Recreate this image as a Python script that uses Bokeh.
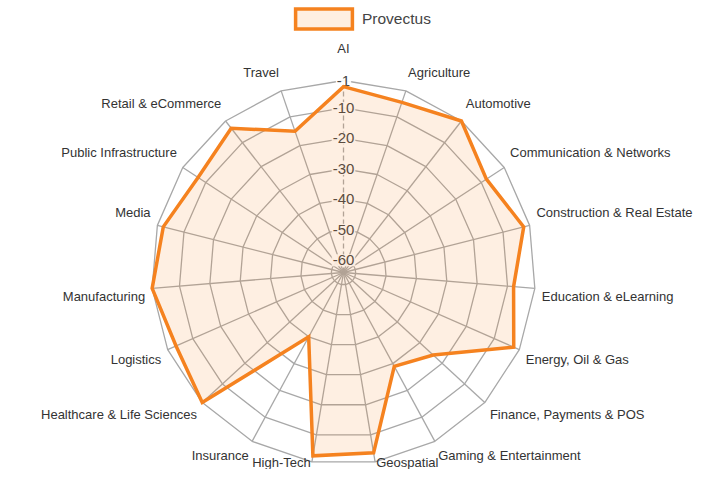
import numpy as np
from bokeh.plotting import figure
from bokeh.models import Range1d, ColumnDataSource, Legend, LegendItem
from bokeh.core.properties import value
from bokeh.embed import file_html
from bokeh.resources import INLINE

# ---- data ----
categories = ["AI", "Agriculture", "Automotive", "Communication & Networks",
              "Construction & Real Estate", "Education & eLearning",
              "Energy, Oil & Gas", "Finance, Payments & POS",
              "Gaming & Entertainment", "Geospatial", "High-Tech", "Insurance",
              "Healthcare & Life Sciences", "Logistics", "Manufacturing",
              "Media", "Public Infrastructure", "Retail & eCommerce", "Travel"]
values = [-3, -5, -1, -8, -3, -8, -3, -24, -29, -4, -3, -40, -1, -4, -1, -3, -7, -4, -15]
tick_values = [-1, -10, -20, -30, -40, -50, -60]
tick_labels = ["-1", "-10", "-20", "-30", "-40", "-50", "-60"]
series_name = "Provectus"
scale_min, scale_max = -64, -1

# ---- geometry ----
W, H = 693, 469
CX, CY = 343, 272
R = 192.0
n = len(categories)
theta = np.pi / 2 - 2 * np.pi * np.arange(n) / n


def rad(v):
    return R * (np.asarray(v, dtype=float) - scale_min) / (scale_max - scale_min)


p = figure(width=W, height=H, output_backend="svg", toolbar_location=None,
           x_range=Range1d(-CX, W - CX), y_range=Range1d(-(H - CY), CY),
           x_axis_location=None, y_axis_location=None, min_border=0)
p.grid.visible = False
p.outline_line_color = None

grid_color = "#a8a8a8"
# rings
closed = np.append(theta, theta[0])
ring_xs = [list(rad(t) * np.cos(closed)) for t in tick_values]
ring_ys = [list(rad(t) * np.sin(closed)) for t in tick_values]
p.multi_line(ring_xs, ring_ys, line_color=grid_color, line_width=1.3)
# spokes
sp_xs = [[0, R * np.cos(t)] for t in theta[1:]]
sp_ys = [[0, R * np.sin(t)] for t in theta[1:]]
p.multi_line(sp_xs, sp_ys, line_color=grid_color, line_width=1.3)
p.line([0, R * np.cos(theta[0])], [0, R * np.sin(theta[0])],
       line_color=grid_color, line_width=1.3, line_dash="5 3")

# tick labels (drawn before the dataset, like the original)
tsrc = ColumnDataSource(dict(x=[0.0] * len(tick_values), y=list(rad(tick_values)), t=tick_labels))
p.text(x="x", y="y", text="t", source=tsrc, text_align="center", text_baseline="middle",
       text_font=value("Liberation Sans"), text_font_size="15px", text_color="#444444",
       background_fill_color="white", background_fill_alpha=0.9, padding=1)

# dataset
vx = rad(values) * np.cos(theta)
vy = rad(values) * np.sin(theta)
patch = p.patch(vx, vy, fill_color="#f5821f", fill_alpha=0.13,
                line_color="#f5821f", line_width=3.5, line_join="miter")

# category labels
c, s = np.cos(theta), np.sin(theta)
extra = np.where((np.abs(c) < 1e-6) & (s > 0), 18.0, 0.0)
rl = R + 7 + extra
lx = rl * c
ly = rl * s
align = np.where(np.abs(c) < 1e-6, "center", np.where(c > 0, "left", "right"))
base = np.where(np.abs(s) < 1e-6, "middle", np.where(s > 0, "bottom", "top"))
# labels above the centre sit a little higher (as in the original layout)
ly = np.where((base == "bottom") & (extra == 0), ly + 4, ly)
ymin = -(H - CY) + 15
ly = np.where(base == "top", np.maximum(ly, ymin), ly)
lsrc = ColumnDataSource(dict(x=list(lx), y=list(ly), t=categories,
                             a=list(align), b=list(base)))
p.text(x="x", y="y", text="t", source=lsrc, text_align="a", text_baseline="b",
       text_font=value("Liberation Sans"), text_font_size="13px", text_color="#333333")

# legend
legend = Legend(items=[LegendItem(label=series_name, renderers=[patch])],
                location=(288, 438), orientation="horizontal",
                glyph_width=71, glyph_height=25, label_height=25,
                label_standoff=3, padding=0, margin=0, spacing=0,
                label_text_font="Liberation Sans", label_text_font_size="15.5px",
                label_text_color="#444444", border_line_alpha=0,
                background_fill_alpha=0)
p.add_layout(legend)

open("out.html", "w").write(file_html(p, INLINE))
